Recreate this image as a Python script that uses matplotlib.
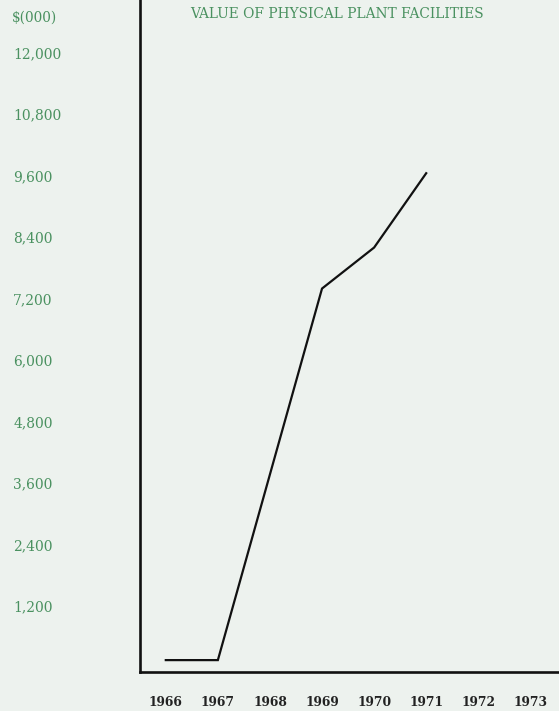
import matplotlib.pyplot as plt

# values, $ thousands
years = [1966, 1967, 1969, 1970, 1971]
values = [150, 150, 7400, 8200, 9650]

ytick_vals = [1200, 2400, 3600, 4800, 6000, 7200, 8400, 9600, 10800, 12000]
ytick_labels = ["1,200", "2,400", "3,600", "4,800", "6,000",
                "7,200", "8,400", "9,600", "10,800", "12,000"]
xtick_years = [1966, 1967, 1968, 1969, 1970, 1971, 1972, 1973]

bg = "#edf2ee"
green = "#4a9160"

fig = plt.figure(figsize=(5.59, 7.11), dpi=100, facecolor=bg)
ax = fig.add_axes([0.25, 0.055, 0.75, 0.945])
ax.set_facecolor(bg)

# the data line
ax.plot(years, values, color="#111111", lw=1.6, solid_joinstyle="miter")

ax.set_xlim(1965.5, 1973.55)
ax.set_ylim(-80, 13030)

for s in ["top", "right"]:
    ax.spines[s].set_visible(False)
for s in ["left", "bottom"]:
    ax.spines[s].set_linewidth(1.9)
    ax.spines[s].set_color("#111111")

ax.set_yticks(ytick_vals)
ax.set_yticklabels(ytick_labels, family="DejaVu Serif", fontsize=10,
                   color=green, ha="left")
ax.tick_params(axis="y", length=0, pad=91)

ax.set_xticks(xtick_years)
ax.set_xticklabels([str(y) for y in xtick_years], family="DejaVu Serif",
                   fontsize=8.8, fontweight="bold", color="#222222")
ax.tick_params(axis="x", length=0, pad=17)

fig.text(12 / 559, 1 - 18 / 711, "$(000)", family="DejaVu Serif",
         fontsize=9.8, color=green, va="center", ha="left")
fig.text(337 / 559, 1 - 14 / 711, "VALUE OF PHYSICAL PLANT FACILITIES",
         family="DejaVu Serif", fontsize=9.9, color=green,
         va="center", ha="center")

fig.savefig("out.png", dpi=100, facecolor=bg)
